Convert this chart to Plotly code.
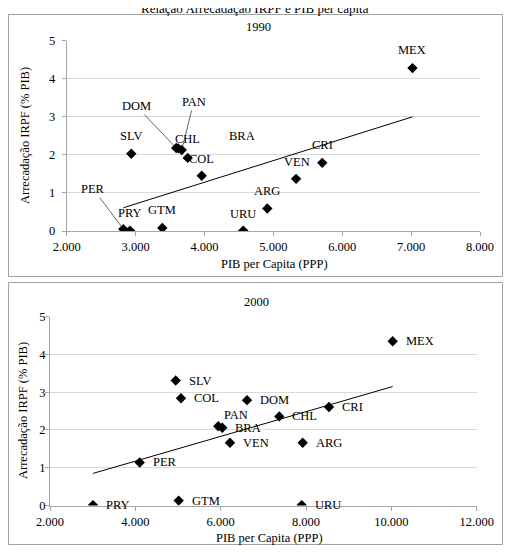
import plotly.graph_objects as go

# The page body keeps the browser's 8 px margin, so the figure is 16 px smaller
# than the 511x553 window and every reference pixel position is shifted by 8 px.
WIN_W, WIN_H = 511, 553
OFF = 8
W, H = WIN_W - 2 * OFF, WIN_H - 2 * OFF

# ---------------- data ----------------
countries_1990 = ["MEX", "SLV", "DOM", "CHL", "PAN", "COL", "BRA", "CRI", "VEN", "ARG", "URU", "GTM", "PER", "PRY"]
pib_1990 = [7020, 2938, 3590, 3620, 3670, 3757, 3960, 5710, 5330, 4912, 4563, 3388, 2822, 2919]
irpf_1990 = [4.28, 2.03, 2.18, 2.17, 2.13, 1.92, 1.45, 1.79, 1.37, 0.59, 0.01, 0.08, 0.05, 0.01]
trend_1990_x = [2822, 7020]
trend_1990_y = [0.61, 3.00]

countries_2000 = ["MEX", "SLV", "COL", "DOM", "CRI", "CHL", "PAN", "BRA", "VEN", "ARG", "PER", "PRY", "GTM", "URU"]
pib_2000 = [10031, 4946, 5070, 6617, 8538, 7374, 5944, 6038, 6218, 7922, 4102, 3008, 5016, 7899]
irpf_2000 = [4.35, 3.31, 2.84, 2.79, 2.61, 2.36, 2.10, 2.06, 1.66, 1.66, 1.14, 0.01, 0.13, 0.01]
trend_2000_x = [3008, 10031]
trend_2000_y = [0.85, 3.15]

x_ticks_1990 = [2000, 3000, 4000, 5000, 6000, 7000, 8000]
x_ticklabels_1990 = ["2.000", "3.000", "4.000", "5.000", "6.000", "7.000", "8.000"]
x_ticks_2000 = [2000, 4000, 6000, 8000, 10000, 12000]
x_ticklabels_2000 = ["2.000", "4.000", "6.000", "8.000", "10.000", "12.000"]
y_ticks = [0, 1, 2, 3, 4, 5]

main_title = "Relação Arrecadação IRPF e PIB per capita"
x_title = "PIB per Capita (PPP)"
y_title = "Arrecadação IRPF (% PIB)"

# ---------------- styling ----------------
FONT = "Liberation Serif, Times New Roman, serif"
FS = 12.5
GRID = "#d9d9d9"
AXIS = "#a6a6a6"
BORDER = "#a0a0a0"

# label placement (pixel offsets: dx right, dy down; leader = draw leader line)
lab_1990 = {
    "MEX": (0, -18, False), "SLV": (0, -18, False), "DOM": (-40, -42, True),
    "CHL": (9, -9, False), "PAN": (12, -48, True), "COL": (14, 1, False),
    "BRA": (40, -40, False), "CRI": (0, -18, False), "VEN": (1, -17, False),
    "ARG": (0, -18, False), "URU": (0, -17, False), "GTM": (0, -18, False),
    "PRY": (0, -18, False), "PER": (-30, -40, True),
}


def px_x(p):
    """window pixel x -> paper fraction"""
    return (p - OFF) / W


def px_y(p):
    """window pixel y -> paper fraction"""
    return 1 - (p - OFF) / H


fig = go.Figure()

marker = dict(symbol="diamond", size=8, color="black")

fig.add_trace(go.Scatter(x=pib_1990, y=irpf_1990, mode="markers", marker=marker,
                         xaxis="x", yaxis="y", showlegend=False, hoverinfo="skip"))
fig.add_trace(go.Scatter(x=trend_1990_x, y=trend_1990_y, mode="lines",
                         line=dict(color="black", width=1), xaxis="x", yaxis="y",
                         showlegend=False, hoverinfo="skip"))
fig.add_trace(go.Scatter(x=pib_2000, y=irpf_2000, mode="markers", marker=marker,
                         xaxis="x2", yaxis="y2", showlegend=False, hoverinfo="skip"))
fig.add_trace(go.Scatter(x=trend_2000_x, y=trend_2000_y, mode="lines",
                         line=dict(color="black", width=1), xaxis="x2", yaxis="y2",
                         showlegend=False, hoverinfo="skip"))

annotations = []
lab_font = dict(family=FONT, size=FS, color="black")

for c, xv, yv in zip(countries_1990, pib_1990, irpf_1990):
    dx, dy, leader = lab_1990[c]
    if leader:
        annotations.append(dict(x=xv, y=yv, xref="x", yref="y", text=c, showarrow=True,
                                ax=dx, ay=dy, arrowhead=0, arrowwidth=0.8,
                                arrowcolor="#404040", standoff=3, font=lab_font))
    else:
        annotations.append(dict(x=xv, y=yv, xref="x", yref="y", text=c, showarrow=False,
                                xanchor="center", yanchor="middle",
                                xshift=dx, yshift=-dy, font=lab_font))

for c, xv, yv in zip(countries_2000, pib_2000, irpf_2000):
    if c == "PAN":
        annotations.append(dict(x=xv, y=yv, xref="x2", yref="y2", text=c, showarrow=False,
                                xanchor="center", yanchor="middle",
                                xshift=18, yshift=11, font=lab_font))
    else:
        annotations.append(dict(x=xv, y=yv, xref="x2", yref="y2", text=c, showarrow=False,
                                xanchor="left", yanchor="middle", xshift=11, font=lab_font))

title_font = dict(family=FONT, size=13, color="black")


def paper_text(px, py, text, font, angle=0):
    return dict(x=px_x(px), y=px_y(py), xref="paper", yref="paper", text=text,
                showarrow=False, xanchor="center", yanchor="middle",
                textangle=angle, font=font)


annotations += [
    paper_text(255, 8.5, main_title, title_font),
    paper_text(258, 27, "1990", lab_font),
    paper_text(256, 301.5, "2000", lab_font),
    paper_text(274, 264, x_title, lab_font),
    paper_text(269, 538, x_title, lab_font),
    paper_text(25, 136, y_title, lab_font, -90),
    paper_text(23, 411, y_title, lab_font, -90),
]

shapes = [
    dict(type="rect", xref="paper", yref="paper", x0=px_x(8.5), x1=px_x(502.5),
         y0=px_y(276.5), y1=px_y(14.5), line=dict(color=BORDER, width=1)),
    dict(type="rect", xref="paper", yref="paper", x0=px_x(8.5), x1=px_x(502.5),
         y0=px_y(544.5), y1=px_y(282.5), line=dict(color=BORDER, width=1)),
]

tickfont = dict(family=FONT, size=FS, color="black")
xcommon = dict(showgrid=False, showline=True, linecolor=AXIS, linewidth=1, ticks="outside",
               ticklen=4, tickcolor=AXIS, tickfont=tickfont, zeroline=False, fixedrange=True,
               automargin=False)
ycommon = dict(showgrid=True, gridcolor=GRID, gridwidth=1, showline=True, linecolor=AXIS,
               linewidth=1, ticks="outside", ticklen=4, tickcolor=AXIS, tickfont=tickfont,
               zeroline=False, tickvals=y_ticks, range=[0, 5], fixedrange=True,
               automargin=False)

fig.update_layout(
    width=W, height=H,
    margin=dict(l=0, r=0, t=0, b=0, pad=0),
    paper_bgcolor="white", plot_bgcolor="white",
    xaxis=dict(domain=[px_x(66.7), px_x(480)], range=[2000, 8000], anchor="y",
               tickvals=x_ticks_1990, ticktext=x_ticklabels_1990, **xcommon),
    yaxis=dict(domain=[px_y(231), px_y(40.7)], anchor="x", ticklabelstandoff=4, **ycommon),
    xaxis2=dict(domain=[px_x(50), px_x(476.7)], range=[2000, 12000], anchor="y2",
                tickvals=x_ticks_2000, ticktext=x_ticklabels_2000, **xcommon),
    yaxis2=dict(domain=[px_y(505.5), px_y(316.7)], anchor="x2", ticklabelstandoff=-3,
                **ycommon),
    annotations=annotations, shapes=shapes,
)

fig.write_html("out.html", config={"displayModeBar": False})
